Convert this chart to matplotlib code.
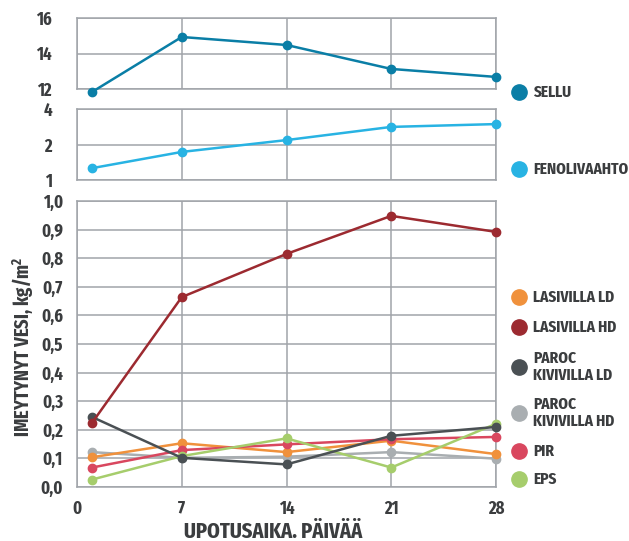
import matplotlib
matplotlib.use("Agg")
import matplotlib.pyplot as plt
from matplotlib.lines import Line2D
from matplotlib.ticker import FixedLocator, FixedFormatter, NullLocator

plt.rcParams['font.family'] = ['Fira Sans Extra Condensed', 'Roboto Condensed', 'DejaVu Sans']
plt.rcParams['font.weight'] = 'bold'
plt.rcParams['mathtext.fontset'] = 'custom'
plt.rcParams['mathtext.rm'] = 'Fira Sans Extra Condensed:bold'

days = [1, 7, 14, 21, 28]

sellu = [11.83, 14.93, 14.48, 13.13, 12.68]
fenolivaahto = [1.26, 1.73, 2.18, 2.82, 2.98]

lasivilla_ld = [0.104, 0.153, 0.122, 0.162, 0.115]
lasivilla_hd = [0.224, 0.664, 0.815, 0.948, 0.892]
paroc_ld = [0.245, 0.102, 0.079, 0.179, 0.210]
paroc_hd = [0.122, 0.102, 0.106, 0.122, 0.099]
pir = [0.068, 0.129, 0.149, 0.167, 0.175]
eps = [0.026, 0.108, 0.170, 0.068, 0.221]

main_series = [
    ("LASIVILLA LD", lasivilla_ld, "#f0913c"),
    ("LASIVILLA HD", lasivilla_hd, "#9c2a30"),
    ("PAROC\nKIVIVILLA LD", paroc_ld, "#4a5054"),
    ("PAROC\nKIVIVILLA HD", paroc_hd, "#a9aeb1"),
    ("PIR", pir, "#d9475f"),
    ("EPS", eps, "#a6cd6c"),
]
draw_order = [3, 0, 4, 5, 2, 1]

sellu_color = "#0a7ea6"
feno_color = "#28b3e3"

x_ticks = [0, 7, 14, 21, 28]
top_ticks = [12, 14, 16]
mid_ticks = [1, 2, 4]
main_ticks = [0.0, 0.1, 0.2, 0.3, 0.4, 0.5, 0.6, 0.7, 0.8, 0.9, 1.0]

grid_c = "#a0a4a9"
text_c = "#3b3d3f"
W, H = 629, 541

fig = plt.figure(figsize=(W / 100, H / 100), dpi=100)


def frac(x0, y0, x1, y1):
    return [x0 / W, 1 - y1 / H, (x1 - x0) / W, (y1 - y0) / H]


ax1 = fig.add_axes(frac(77, 18, 496, 89))
ax2 = fig.add_axes(frac(77, 109, 496, 180))
ax3 = fig.add_axes(frac(77, 201, 496, 487))

for ax in (ax1, ax2, ax3):
    ax.set_xlim(0, 28)
    ax.xaxis.set_major_locator(FixedLocator(x_ticks))
    ax.grid(True, color=grid_c, lw=1.1)
    ax.set_axisbelow(True)
    ax.tick_params(length=0, labelsize=13, labelcolor=text_c)
    for s in ax.spines.values():
        s.set_color(grid_c)
        s.set_linewidth(1.1)

# Top panel: SELLU
ax1.set_ylim(12, 16)
ax1.yaxis.set_major_locator(FixedLocator(top_ticks))
ax1.set_yticklabels([str(t) for t in top_ticks])
ax1.tick_params(axis='y', pad=18)
ax1.tick_params(axis='x', labelbottom=False)
ax1.plot(days, sellu, color=sellu_color, lw=1.8, marker='o', ms=6, clip_on=False, zorder=3)

# Middle panel: FENOLIVAAHTO (log2 scale)
ax2.set_yscale('log', base=2)
ax2.set_ylim(1, 4)
ax2.yaxis.set_major_locator(FixedLocator(mid_ticks))
ax2.yaxis.set_major_formatter(FixedFormatter([str(t) for t in mid_ticks]))
ax2.yaxis.set_minor_locator(NullLocator())
ax2.tick_params(axis='y', pad=18)
ax2.tick_params(axis='x', labelbottom=False)
ax2.plot(days, fenolivaahto, color=feno_color, lw=1.8, marker='o', ms=6, clip_on=False, zorder=3)

# Main panel
ax3.set_ylim(0, 1.0)
ax3.yaxis.set_major_locator(FixedLocator(main_ticks))
ax3.set_yticklabels([f"{t:.1f}".replace('.', ',') for t in main_ticks])
ax3.tick_params(axis='y', pad=10)
ax3.tick_params(axis='x', pad=9)
for i in draw_order:
    name, vals, col = main_series[i]
    ax3.plot(days, vals, color=col, lw=1.8, marker='o', ms=6, clip_on=False, zorder=3)

# Axis titles
fig.text(273 / W, 1 - 529.5 / H, "UPOTUSAIKA. PÄIVÄÄ", ha='center', va='center_baseline',
         fontsize=16, color=text_c)
fig.text(23 / W, 1 - 347 / H, "IMEYTYNYT VESI, kg/m$^\\mathregular{2}$", rotation=90,
         ha='center', va='center', fontsize=14.5, color=text_c)

# Legend entries
legend_rows = [
    ("SELLU", sellu_color, 92),
    ("FENOLIVAAHTO", feno_color, 169),
]
legend_y = [297, 327, 367, 413, 451, 479]
for (name, vals, col), y in zip(main_series, legend_y):
    legend_rows.append((name, col, y))

for name, col, y in legend_rows:
    fig.add_artist(Line2D([519 / W], [1 - y / H], marker='o', ms=11, color=col,
                          transform=fig.transFigure, lw=0))
    fig.text(533 / W, 1 - y / H, name, ha='left', va='center', fontsize=12,
             color=text_c, linespacing=1.05)

fig.savefig("out.png", dpi=100)
